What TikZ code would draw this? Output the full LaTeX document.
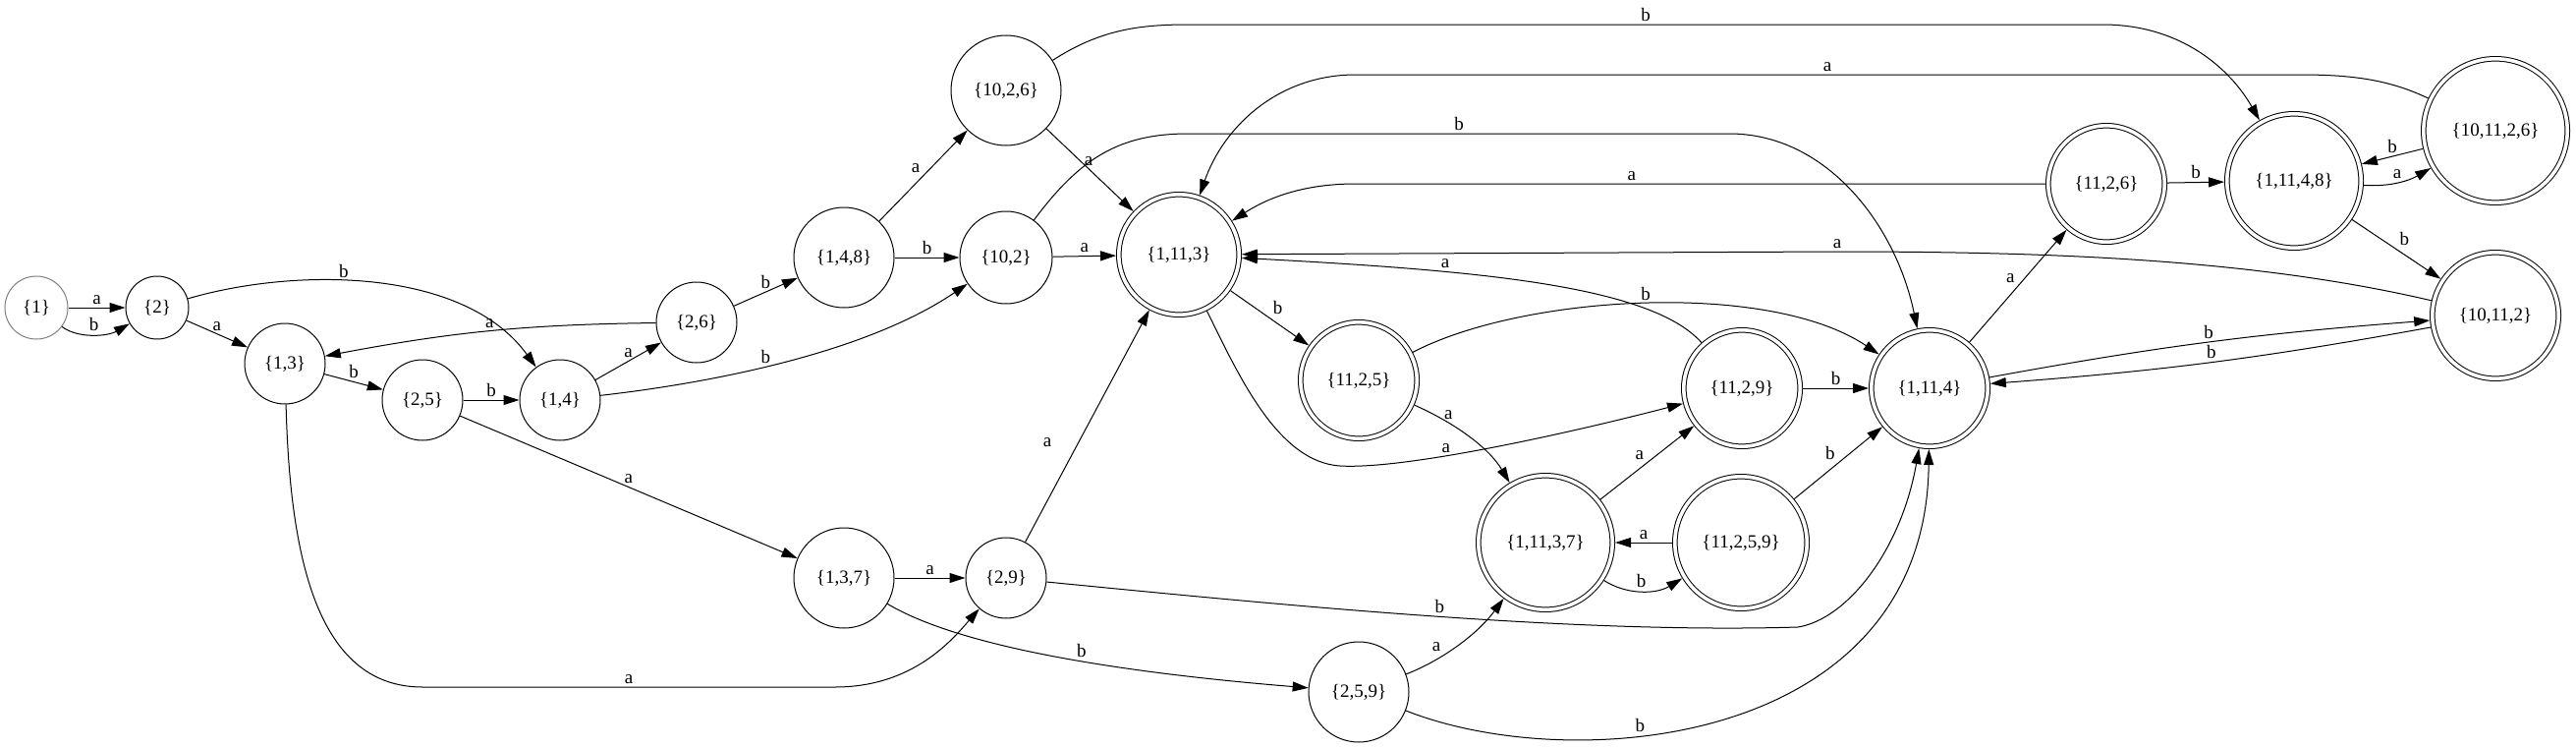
\documentclass[tikz,border=0pt]{standalone}
\usepackage{fontspec}
\setmainfont{Liberation Serif}
\usetikzlibrary{arrows.meta}

\tikzset{
  state/.style={draw, circle, inner sep=0pt, line width=0.5pt},
  accept/.style={state, double, double distance=1.8pt, outer sep=1.4pt},
  trans/.style={line width=0.5pt, -{Triangle[length=8pt,width=5pt]}},
  lbl/.style={inner sep=1.5pt}
}

\begin{document}
\begin{tikzpicture}[x=0.5pt, y=-0.5pt, font=\fontsize{9.5}{11}\selectfont]
        \useasboundingbox (0,0) rectangle (2622,760);

        % состояния
        \node[state, draw=gray, minimum size=32pt] (n1) at (37,313) {\{1\}};
        \node[state, minimum size=32pt] (n2) at (160,313) {\{2\}};
        \node[state, minimum size=41pt] (n13) at (290,370) {\{1,3\}};
        \node[state, minimum size=41pt] (n25) at (430,407) {\{2,5\}};
        \node[state, minimum size=41pt] (n14) at (570,407) {\{1,4\}};
        \node[state, minimum size=41pt] (n26) at (709,328) {\{2,6\}};
        \node[state, minimum size=51pt] (n148) at (859,262) {\{1,4,8\}};
        \node[state, minimum size=56pt] (n1026) at (1024,92) {\{10,2,6\}};
        \node[state, minimum size=47pt] (n102) at (1024,262) {\{10,2\}};
        \node[state, minimum size=51pt] (n137) at (859,588) {\{1,3,7\}};
        \node[state, minimum size=41pt] (n29) at (1024,588) {\{2,9\}};
        \node[state, minimum size=51pt] (n259) at (1383,704) {\{2,5,9\}};

        % допускающие состояния
        \node[accept, minimum size=61.2pt] (n1113) at (1200,259) {\{1,11,3\}};
        \node[accept, minimum size=59.2pt] (n1125) at (1383,387) {\{11,2,5\}};
        \node[accept, minimum size=59.2pt] (n1129) at (1773,395) {\{11,2,9\}};
        \node[accept, minimum size=59.2pt] (n1114) at (1964,395) {\{1,11,4\}};
        \node[accept, minimum size=68.2pt] (n11137) at (1573,552) {\{1,11,3,7\}};
        \node[accept, minimum size=67.2pt] (n11259) at (1772,552) {\{11,2,5,9\}};
        \node[accept, minimum size=59.2pt] (n1126) at (2144,187) {\{11,2,6\}};
        \node[accept, minimum size=68.2pt] (n11148) at (2335,184) {\{1,11,4,8\}};
        \node[accept, minimum size=73.2pt] (n101126) at (2540,133) {\{10,11,2,6\}};
        \node[accept, minimum size=64.2pt] (n10112) at (2540,321) {\{10,11,2\}};

        % переходы слева
        \draw[trans] (n1) -- node[lbl, above] {a} (n2);
        \draw[trans] (n1) .. controls (80,345) and (110,342) .. (n2) node[lbl, midway, above] {b};
        \draw[trans] (n2) -- node[lbl, above] {a} (n13);
        \draw[trans] (n2) .. controls (300,272) and (472,272) .. (n14) node[lbl, pos=0.42, above] {b};
        \draw[trans] (n13) -- node[lbl, above] {b} (n25);
        \draw[trans] (n13) .. controls (295,560) and (320,699) .. (430,699) -- (850,699) node[lbl, midway, above] {a}
                .. controls (930,699) and (970,650) .. (n29);
        \draw[trans] (n25) -- node[lbl, above] {b} (n14);
        \draw[trans] (n25) -- node[lbl, above] {a} (n137);
        \draw[trans] (n14) -- node[lbl, above] {a} (n26);
        \draw[trans] (n14) .. controls (720,390) and (880,360) .. (n102) node[lbl, pos=0.45, above] {b};
        \draw[trans] (n26) to[bend right=5] node[lbl, above] {a} (n13);
        \draw[trans] (n26) -- node[lbl, above] {b} (n148);
        \draw[trans] (n148) -- node[lbl, above left] {a} (n1026);
        \draw[trans] (n148) -- node[lbl, above] {b} (n102);

        % переходы в середине
        \draw[trans] (n1026) -- node[lbl, pos=0.4, right] {a} (n1113);
        \draw[trans] (n1026) .. controls (1120,30) and (1160,25) .. (1210,25) -- (2140,25) node[lbl, midway, above] {b}
                .. controls (2220,25) and (2270,70) .. (n11148);
        \draw[trans] (n102) -- node[lbl, above] {a} (n1113);
        \draw[trans] (n102) .. controls (1100,160) and (1140,136) .. (1210,136) -- (1760,136) node[lbl, midway, above] {b}
                .. controls (1860,136) and (1930,230) .. (n1114);
        \draw[trans] (n137) -- node[lbl, above] {a} (n29);
        \draw[trans] (n137) .. controls (980,660) and (1150,685) .. (n259) node[lbl, pos=0.55, above] {b};
        \draw[trans] (n29) -- node[lbl, pos=0.43, left=12pt] {a} (n1113);
        \draw[trans] (n29) .. controls (1300,615) and (1600,645) .. (1830,638) node[lbl, pos=0.52, above] {b}
                .. controls (1880,630) and (1935,560) .. (n1114);
        \draw[trans] (n259) .. controls (1460,675) and (1500,650) .. (n11137) node[lbl, pos=0.4, above left] {a};
        \draw[trans] (n259) .. controls (1600,790) and (1960,760) .. (n1114) node[lbl, pos=0.37, above] {b};

        % переходы из допускающих
        \draw[trans] (n1113) -- node[lbl, above right] {b} (n1125);
        \draw[trans] (n1113) .. controls (1260,380) and (1300,470) .. (1364,474)
                .. controls (1430,478) and (1600,440) .. (n1129) node[lbl, pos=0.37, above] {a};
        \draw[trans] (n1125) .. controls (1480,430) and (1515,455) .. (n11137) node[lbl, pos=0.3, above] {a};
        \draw[trans] (n1125) .. controls (1550,300) and (1800,285) .. (n1114) node[lbl, midway, above] {b};
        \draw[trans] (n1129) -- node[lbl, above] {b} (n1114);
        \draw[trans] (n1129) .. controls (1680,290) and (1500,275) .. (n1113) node[lbl, pos=0.68, above] {a};
        \draw[trans] (n11137) -- node[lbl, above left] {a} (n1129);
        \draw[trans] (n11137) .. controls (1655,605) and (1685,605) .. (n11259) node[lbl, midway, above] {b};
        \draw[trans] (n11259) -- node[lbl, above] {a} (n11137);
        \draw[trans] (n11259) -- node[lbl, above left] {b} (n1114);
        \draw[trans] (n1114) -- node[lbl, above left] {a} (n1126);
        \draw[trans] (n1114) to[bend left=3] node[lbl, above] {b} (n10112);
        \draw[trans] (n10112) to[bend left=3] node[lbl, above] {b} (n1114);
        \draw[trans] (n10112) .. controls (2300,265) and (2100,256) .. (1870,256) node[lbl, above] {a} -- (n1113);
        \draw[trans] (n1126) -- node[lbl, above] {b} (n11148);
        \draw[trans] (n1126) -- (1380,187) node[lbl, pos=0.6, above] {a}
                .. controls (1320,187) and (1285,205) .. (n1113);
        \draw[trans] (n11148) .. controls (2430,190) and (2450,185) .. (n101126) node[lbl, midway, above] {a};
        \draw[trans] (n101126) -- node[lbl, above] {b} (n11148);
        \draw[trans] (n11148) -- node[lbl, above right] {b} (n10112);
        \draw[trans] (n101126) .. controls (2430,80) and (2390,76) .. (2340,76) -- (1380,76) node[lbl, midway, above] {a}
                .. controls (1300,76) and (1245,130) .. (n1113);
    \end{tikzpicture}
\end{document}
